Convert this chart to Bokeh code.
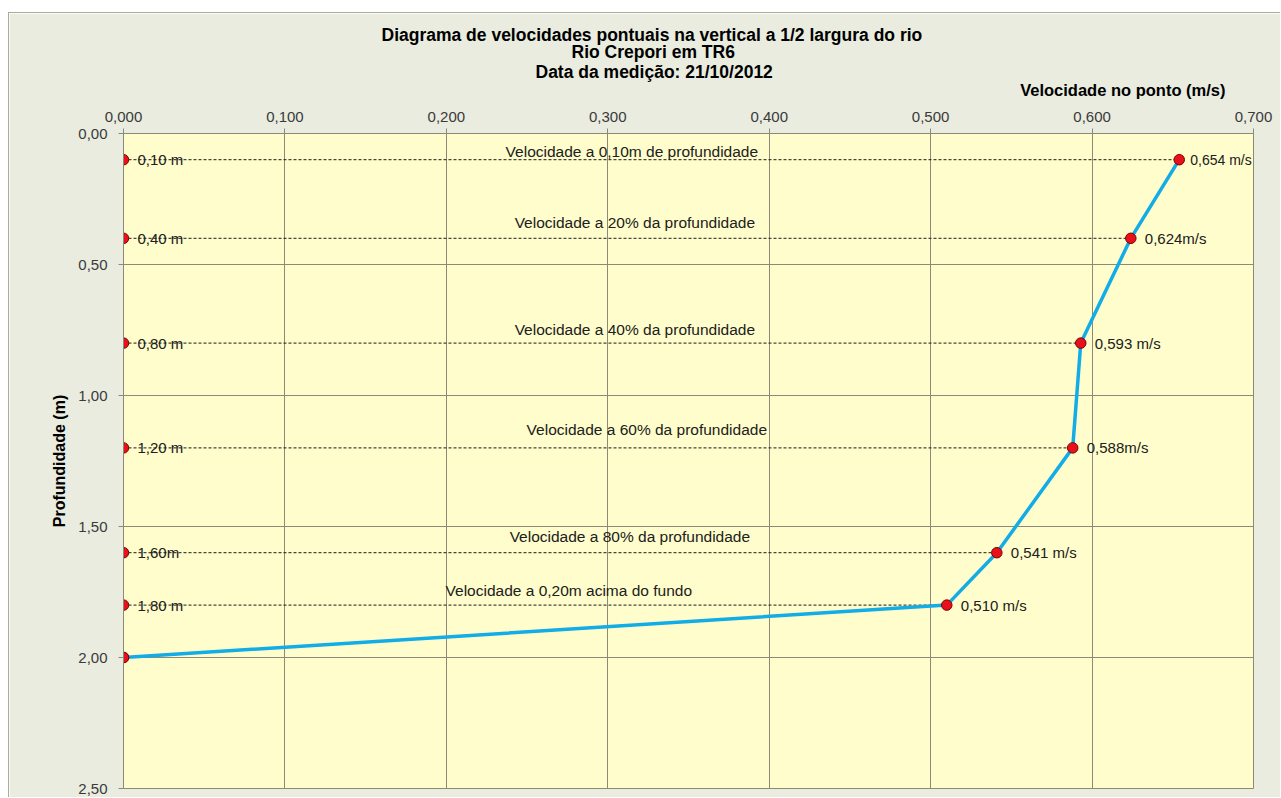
from bokeh.plotting import figure
from bokeh.models import Range1d, FixedTicker, CustomJSTickFormatter, ColumnDataSource, Title
from bokeh.core.properties import value
from bokeh.embed import file_html
from bokeh.resources import INLINE

# ---------------- data ----------------
depths = [0.10, 0.40, 0.80, 1.20, 1.60, 1.80, 2.00]
velocities = [0.654, 0.624, 0.593, 0.588, 0.541, 0.510, 0.000]
depth_labels = ["0,10 m", "0,40 m", "0,80 m", "1,20 m", "1,60m", "1,80 m"]
velocity_labels = ["0,654 m/s", "0,624m/s", "0,593 m/s", "0,588m/s", "0,541 m/s", "0,510 m/s"]
description_labels = [
    "Velocidade a 0,10m de profundidade",
    "Velocidade a 20% da profundidade",
    "Velocidade a 40% da profundidade",
    "Velocidade a 60% da profundidade",
    "Velocidade a 80% da profundidade",
    "Velocidade a 0,20m acima do fundo",
]
x_ticks = [0.0, 0.1, 0.2, 0.3, 0.4, 0.5, 0.6, 0.7]
y_ticks = [0.0, 0.5, 1.0, 1.5, 2.0, 2.5]
title_lines = [
    "Diagrama de velocidades pontuais na vertical a 1/2 largura do rio",
    "Rio Crepori em TR6",
    "Data da medição: 21/10/2012",
]
x_title = "Velocidade no ponto (m/s)"
y_title = "Profundidade (m)"

# label placement (styling, not data)
desc_x = [0.2367, 0.2423, 0.2423, 0.2497, 0.2392, 0.1995]
desc_dy = [-8, -16, -14, -18, -16, -15]
vel_dx = [11, 14, 14, 14, 14, 14]
vel_fs = ["14px", "15px", "15px", "15px", "15px", "15px"]

FONT = "Liberation Sans"
GRID = "#8a8a78"

W, H = 1272, 785
LEFT, RIGHT, TOP, BOTTOM = 114, 28, 120, 10

p = figure(width=W, height=H, output_backend="svg", toolbar_location=None,
           x_axis_location="above",
           x_range=Range1d(0, 0.7), y_range=Range1d(2.5, 0),
           min_border_left=LEFT, min_border_right=RIGHT,
           min_border_top=TOP, min_border_bottom=BOTTOM)
p.styles = {"margin-left": "8px", "margin-top": "12px",
            "border-left": "1px solid #a9ac9c", "border-top": "1px solid #a9ac9c"}

p.background_fill_color = "#fffdcb"
p.border_fill_color = "#e9ecdf"
p.outline_line_color = GRID
p.outline_line_width = 1

for g in (p.xgrid, p.ygrid):
    g.grid_line_color = GRID
    g.grid_line_width = 1
p.xgrid.ticker = FixedTicker(ticks=x_ticks)
p.ygrid.ticker = FixedTicker(ticks=y_ticks)

xa = p.xaxis[0]
ya = p.yaxis[0]
xa.ticker = FixedTicker(ticks=x_ticks)
ya.ticker = FixedTicker(ticks=y_ticks)
xa.formatter = CustomJSTickFormatter(code="return tick.toFixed(3).replace('.', ',');")
ya.formatter = CustomJSTickFormatter(code="return tick.toFixed(2).replace('.', ',');")
for ax in (xa, ya):
    ax.axis_line_color = GRID
    ax.major_tick_line_color = GRID
    ax.major_tick_out = 5
    ax.major_tick_in = 0
    ax.minor_tick_line_color = None
    ax.major_label_text_font = FONT
    ax.major_label_text_font_size = "15px"
    ax.major_label_text_color = "#3a3a3a"
xa.major_label_standoff = 7
ya.major_label_standoff = 11

ya.axis_label = y_title
ya.axis_label_text_font = FONT
ya.axis_label_text_font_style = "bold"
ya.axis_label_text_font_size = "16px"
ya.axis_label_text_color = "#000000"
ya.axis_label_standoff = 7

# titles stacked above the top axis (first added = nearest the axis)
p.add_layout(Title(text=x_title, align="right", offset=28, standoff=20,
                   text_font=FONT, text_font_style="bold", text_font_size="16.5px",
                   text_color="#000000"), "above")
title_offsets = [258, 448, 412]
title_standoffs = [-24, 14, -27]
for line, off, so in reversed(list(zip(title_lines, title_offsets, title_standoffs))):
    p.add_layout(Title(text=line, align="left", offset=off, standoff=so,
                       text_font=FONT, text_font_style="bold", text_font_size="17.5px",
                       text_color="#000000"), "above")

n = len(depth_labels)
seg = ColumnDataSource(dict(x0=[0.0] * n, x1=velocities[:n], y=depths[:n]))

left_src = ColumnDataSource(dict(x=[0.0] * n, y=depths[:n], t=depth_labels))
p.text(x="x", y="y", text="t", source=left_src, x_offset=14,
       text_baseline="middle", text_align="left",
       text_font=value(FONT), text_font_size="15px", text_color="#202020")

desc_src = ColumnDataSource(dict(x=desc_x, y=depths[:n], t=description_labels, dy=desc_dy))
p.text(x="x", y="y", text="t", source=desc_src, y_offset="dy",
       text_baseline="middle", text_align="left",
       text_font=value(FONT), text_font_size="15.5px", text_color="#202020")

p.segment(x0="x0", y0="y", x1="x1", y1="y", source=seg,
          line_color="#1a1a1a", line_width=1, line_dash="3 2")

p.line(velocities, depths, line_color="#12ace6", line_width=3.5)

vel_src = ColumnDataSource(dict(x=velocities[:n], y=depths[:n], t=velocity_labels,
                                dx=vel_dx, fs=vel_fs))
p.text(x="x", y="y", text="t", source=vel_src, x_offset="dx", text_font_size="fs",
       text_baseline="middle", text_align="left",
       text_font=value(FONT), text_color="#202020")

p.scatter(velocities, depths, size=10.5, fill_color="#e8101a", line_color="#7a0000", line_width=1)
p.scatter([0.0] * len(depths), depths, size=10.5, fill_color="#e8101a", line_color="#7a0000", line_width=1)

open("out.html", "w").write(file_html(p, INLINE))
